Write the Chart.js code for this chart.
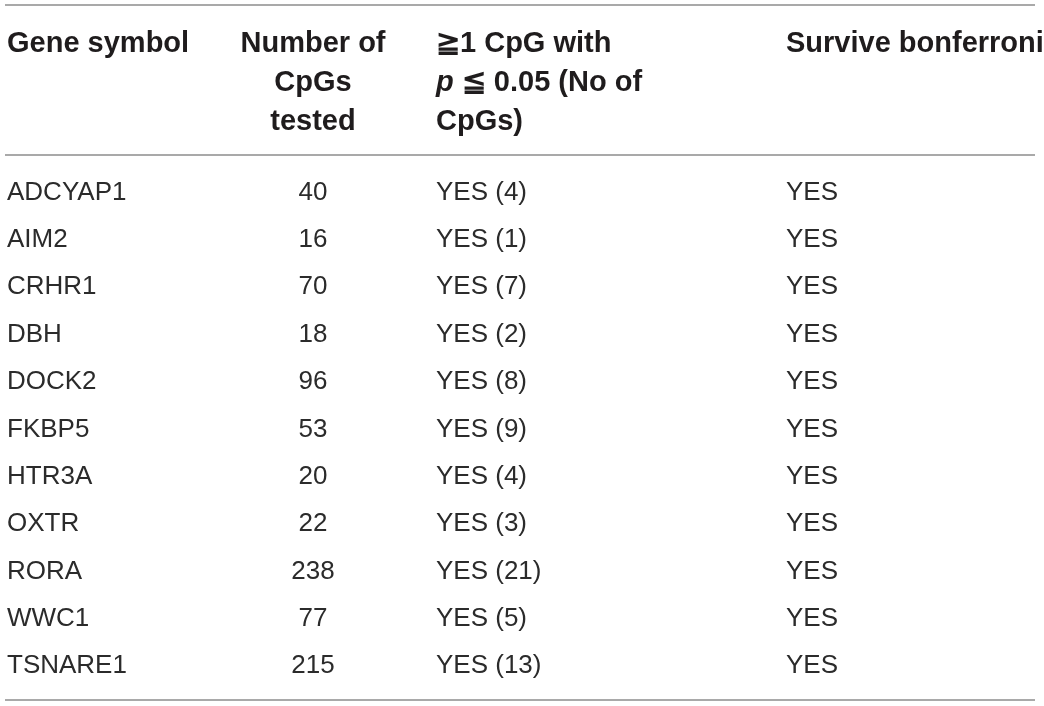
<!DOCTYPE html>
<html>
<head>
<meta charset="utf-8">
<script src="https://cdn.jsdelivr.net/npm/chart.js@4"></script>
<style>
  html, body { margin: 0; padding: 0; background: #fff; }
  #wrap { width: 1044px; height: 706px; position: relative; }
</style>
</head>
<body>
<div id="wrap"><canvas id="tableChart"></canvas></div>
<script>
// table data
const genes = ["ADCYAP1", "AIM2", "CRHR1", "DBH", "DOCK2", "FKBP5", "HTR3A", "OXTR", "RORA", "WWC1", "TSNARE1"];
const cpgsTested = [40, 16, 70, 18, 96, 53, 20, 22, 238, 77, 215];
const cpgsSignificant = [4, 1, 7, 2, 8, 9, 4, 3, 21, 5, 13];
const survivesBonferroni = ["YES", "YES", "YES", "YES", "YES", "YES", "YES", "YES", "YES", "YES", "YES"];

const FONT = 'Helvetica, Arial, "Liberation Sans", sans-serif';
const TEXT = "#1f1c1d";
const RULE = "#8c8c8c";

// column layout (pixels)
const colGene = 7;
const colTestedCenter = 313;
const colSig = 436;
const colBonf = 786;

const tablePlugin = {
  id: "tablePlugin",
  afterDraw(chart) {
    const ctx = chart.ctx;
    const y = chart.scales.y;
    ctx.save();

    // horizontal rules
    ctx.strokeStyle = RULE;
    ctx.lineWidth = 1.5;
    [5, 155, 700].forEach(function (ry) {
      ctx.beginPath();
      ctx.moveTo(5, ry);
      ctx.lineTo(1035, ry);
      ctx.stroke();
    });

    // header
    ctx.fillStyle = TEXT;
    ctx.textBaseline = "alphabetic";
    const hb = [52, 91, 130];
    const hFont = "bold 29px " + FONT;
    ctx.font = hFont;
    ctx.textAlign = "left";
    ctx.fillText("Gene symbol", colGene, hb[0]);
    ctx.textAlign = "center";
    ctx.fillText("Number of", colTestedCenter, hb[0]);
    ctx.fillText("CpGs", colTestedCenter, hb[1]);
    ctx.fillText("tested", colTestedCenter, hb[2]);
    ctx.textAlign = "left";
    ctx.fillText("\u22671 CpG with", colSig, hb[0]);
    ctx.font = "italic bold 29px " + FONT;
    ctx.fillText("p", colSig, hb[1]);
    const pw = ctx.measureText("p").width;
    ctx.font = hFont;
    ctx.fillText(" \u2266 0.05 (No of", colSig + pw, hb[1]);
    ctx.fillText("CpGs)", colSig, hb[2]);
    ctx.fillText("Survive bonferroni", colBonf, hb[0]);

    // body rows, positioned by the category scale
    ctx.font = "26px " + FONT;
    ctx.fillStyle = "#2b2b2b";
    genes.forEach(function (g, i) {
      const py = y.getPixelForValue(i) + 9;
      ctx.textAlign = "left";
      ctx.fillText(g, colGene, py);
      ctx.textAlign = "center";
      ctx.fillText(String(cpgsTested[i]), colTestedCenter, py);
      ctx.textAlign = "left";
      ctx.fillText("YES (" + cpgsSignificant[i] + ")", colSig, py);
      ctx.fillText(survivesBonferroni[i], colBonf, py);
    });

    ctx.restore();
  }
};

document.addEventListener("DOMContentLoaded", function () {
  const ctx = document.getElementById("tableChart").getContext("2d");
  new Chart(ctx, {
    type: "bar",
    data: {
      labels: genes,
      datasets: [{
        label: "Number of CpGs tested",
        data: cpgsTested,
        backgroundColor: "rgba(0,0,0,0)",
        borderWidth: 0
      }]
    },
    options: {
      indexAxis: "y",
      responsive: true,
      maintainAspectRatio: false,
      animation: false,
      layout: { padding: { top: 167, bottom: 18, left: 0, right: 0 } },
      scales: {
        x: { display: false, min: 0, max: 300 },
        y: { display: false, offset: true }
      },
      plugins: {
        legend: { display: false },
        tooltip: { enabled: false }
      }
    },
    plugins: [tablePlugin]
  });
});
</script>
</body>
</html>
